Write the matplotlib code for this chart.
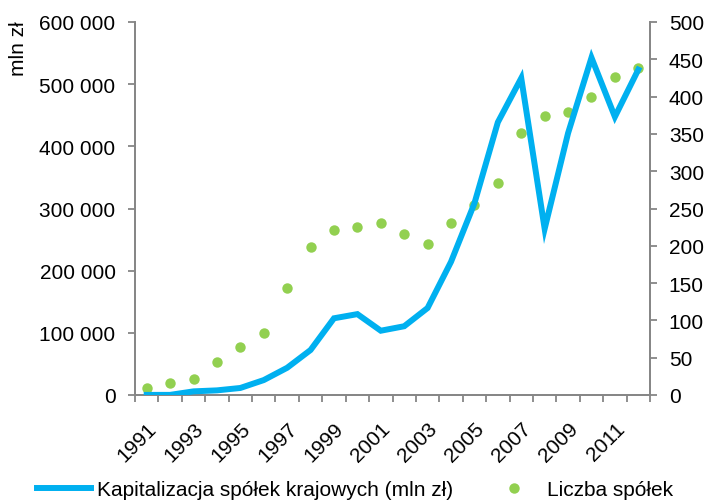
import numpy as np
import matplotlib
matplotlib.use("Agg")
from matplotlib import pyplot as plt
from matplotlib.ticker import FuncFormatter, MultipleLocator

plt.rcParams['font.family'] = ['Liberation Sans', 'DejaVu Sans']

years = list(range(1991, 2013))
kapitalizacja = [160, 200, 5850, 7450, 11300, 24000, 43800, 72400, 123400, 130100,
                 103400, 110600, 140000, 214300, 308400, 438700, 509700, 267400,
                 421200, 542600, 447500, 523400]
liczba_spolek = [9, 16, 22, 44, 65, 83, 143, 198, 221, 225, 230, 216, 203, 230,
                 255, 284, 351, 374, 379, 400, 426, 438]

line_label = 'Kapitalizacja spółek krajowych (mln zł)'
dot_label = 'Liczba spółek'

blue = '#00b0f0'
green = '#92d050'
axis_gray = '#868686'
fs = 15

fig = plt.figure(figsize=(7.06, 5.02), dpi=100)
ax = fig.add_axes([135 / 706, 1 - 396 / 502, 515 / 706, (396 - 23) / 502])
ax2 = ax.twinx()

x = np.arange(len(years)) + 0.5
ln, = ax.plot(x, kapitalizacja, color=blue, lw=4.3, solid_joinstyle='miter',
              label=line_label, zorder=3)
dots, = ax2.plot(x, liczba_spolek, 'o', color=green, ms=7.5, mew=0,
                 label=dot_label)

ax.set_xlim(0, len(years))
ax.set_ylim(0, 600000)
ax2.set_ylim(0, 500)
ax.yaxis.set_major_locator(MultipleLocator(100000))
ax2.yaxis.set_major_locator(MultipleLocator(50))
ax.yaxis.set_major_formatter(FuncFormatter(lambda v, p: f'{int(v):,}'.replace(',', ' ')))

# category boundaries as tick marks, labels on every other year
ax.set_xticks(np.arange(len(years) + 1))
ax.set_xticklabels([])
ax.set_xticks(x[::2], minor=True)
ax.set_xticklabels([str(y) for y in years[::2]], minor=True, rotation=45,
                   ha='right', va='top', rotation_mode='anchor', fontsize=fs)
ax.tick_params(axis='x', which='minor', length=0, pad=17)

for a in (ax, ax2):
    for s in a.spines.values():
        s.set_color(axis_gray)
        s.set_linewidth(1.3)
    a.spines['top'].set_visible(False)
    a.tick_params(which='major', direction='out', length=5, width=1.3,
                  color=axis_gray, labelsize=fs, labelcolor='black')
ax.tick_params(axis='y', pad=9)
ax2.tick_params(axis='y', pad=8.5)
ax.set_zorder(ax2.get_zorder() + 1)
ax.patch.set_visible(False)

fig.text(19 / 706, 1 - 21 / 502, 'mln zł', rotation=90, ha='center', va='top',
         fontsize=fs)

fig.legend([ln, dots], [line_label, dot_label], ncol=2, frameon=False,
           loc='center left', bbox_to_anchor=(37 / 706, 1 - 491 / 502),
           bbox_transform=fig.transFigure, borderpad=0, borderaxespad=0,
           handlelength=2.6, handletextpad=0.3, columnspacing=1.6,
           fontsize=fs, numpoints=1)

fig.savefig('out.png', dpi=100)
